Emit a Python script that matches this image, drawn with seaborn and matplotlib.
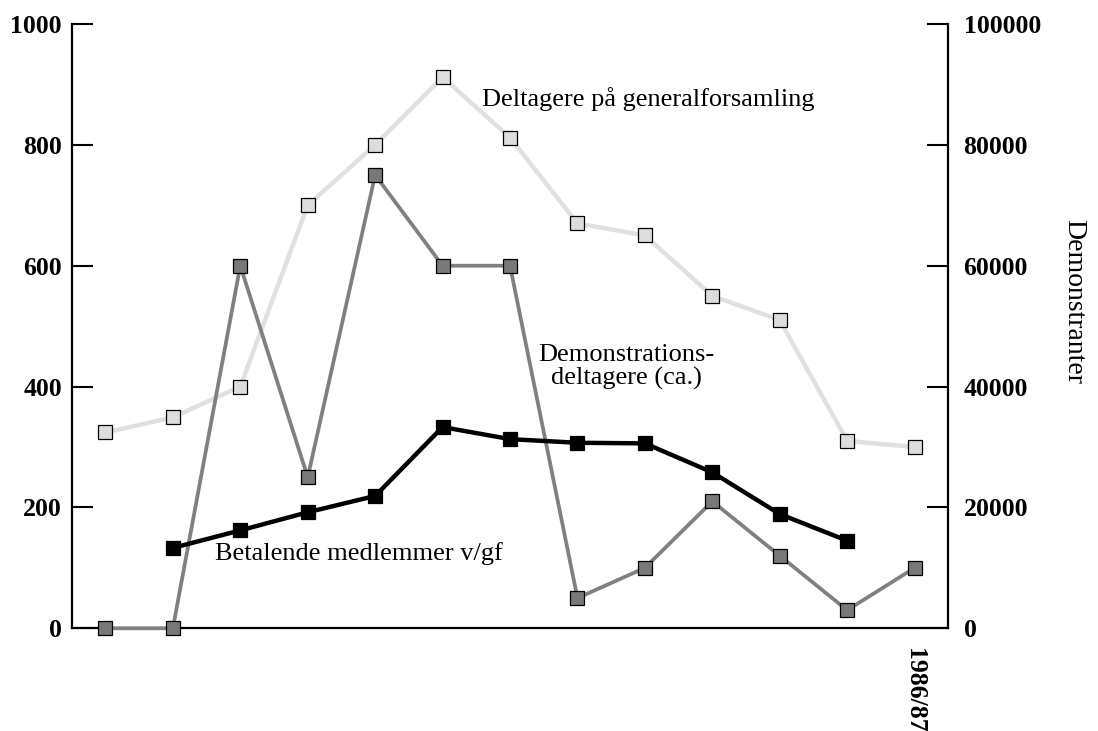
import matplotlib
matplotlib.use('Agg')
import matplotlib.pyplot as plt
import seaborn as sns

# season index 0..12, only the last season is labelled in the original
seasons = list(range(13))
last_label = '1986/87'

# Deltagere på generalforsamling (left axis)
deltagere_gf = [324, 349, 400, 700, 800, 912, 812, 670, 650, 550, 510, 310, 300]

# Demonstrationsdeltagere (ca.) (right axis)
demo_deltagere = [0, 0, 60000, 25000, 75000, 60000, 60000, 5000, 10000, 21000, 12000, 3000, 10000]

# Betalende medlemmer v/gf (left axis), seasons 1..11 only
betalende_x = list(range(1, 12))
betalende = [133, 162, 192, 219, 333, 313, 307, 306, 258, 189, 145]

sns.set_style('white')
plt.rcParams['font.family'] = ['Liberation Serif', 'DejaVu Serif']
plt.rcParams['text.color'] = 'black'
plt.rcParams['axes.labelcolor'] = 'black'

fig = plt.figure(figsize=(10.98, 7.31), dpi=100)
ax = fig.add_axes([0.0653, 0.1405, 0.7984, 0.8267])
ax2 = ax.twinx()
ax3 = ax.twinx()  # same scale as left axis, only to draw the black line on top

sns.lineplot(x=seasons, y=deltagere_gf, ax=ax, color='#e0e0e0', linewidth=3.2,
             marker='s', markersize=9.8, markerfacecolor='#dddddd',
             markeredgecolor='black', markeredgewidth=0.9, clip_on=False)
sns.lineplot(x=seasons, y=demo_deltagere, ax=ax2, color='#808080', linewidth=2.7,
             marker='s', markersize=9.8, markerfacecolor='#787878',
             markeredgecolor='black', markeredgewidth=0.9, clip_on=False)
sns.lineplot(x=betalende_x, y=betalende, ax=ax3, color='black', linewidth=3.2,
             marker='s', markersize=10.5, markerfacecolor='black',
             markeredgecolor='black', markeredgewidth=0.9, clip_on=False)

for a in (ax, ax2, ax3):
    a.set_xlim(-0.5, 12.5)
    a.set_xlabel('')
    a.set_ylabel('')
    a.patch.set_visible(False)
    for s in a.spines.values():
        s.set_visible(False)

ax.set_ylim(0, 1000)
ax3.set_ylim(0, 1000)
ax2.set_ylim(0, 100000)

ax.spines['left'].set_visible(True)
ax.spines['bottom'].set_visible(True)
ax2.spines['right'].set_visible(True)
for s in (ax.spines['left'], ax.spines['bottom'], ax2.spines['right']):
    s.set_color('black')
    s.set_linewidth(1.6)

ax3.set_yticks([])
ax3.tick_params(axis='x', which='both', bottom=False, labelbottom=False)

ax.set_yticks(range(0, 1001, 200))
ax.tick_params(axis='y', direction='in', length=15, width=1.5, pad=7,
               labelsize=18.5, colors='black')
ax2.set_yticks(range(0, 100001, 20000))
ax2.tick_params(axis='y', direction='in', length=15, width=1.5, pad=11,
                labelsize=18.5, colors='black')
for lab in ax.get_yticklabels() + ax2.get_yticklabels():
    lab.set_fontweight('bold')

ax.set_xticks([12])
ax.set_xticklabels([last_label], rotation=270, fontweight='bold', fontsize=18.5)
ax.set_xticks([i + 0.5 for i in range(12)], minor=True)
ax.tick_params(axis='x', which='major', length=0, pad=14, colors='black')
ax.tick_params(axis='x', which='minor', direction='in', length=10, width=1.5,
               colors='black')
ax2.tick_params(axis='x', which='both', bottom=False, labelbottom=False)

ax2.set_ylabel('Demonstranter', rotation=270, fontsize=20, ha='center', va='center')
ax2.yaxis.set_label_coords(1.143, 0.54)

fs = 19
ax.text(5.58, 864, 'Deltagere på generalforsamling', fontsize=fs,
        ha='left', va='baseline')
ax.text(7.73, 442, 'Demonstrations-', fontsize=fs, ha='center', va='baseline')
ax.text(7.73, 403, 'deltagere (ca.)', fontsize=fs, ha='center', va='baseline')
ax.text(1.62, 113, 'Betalende medlemmer v/gf', fontsize=fs,
        ha='left', va='baseline')

fig.savefig('out.png', dpi=100)
